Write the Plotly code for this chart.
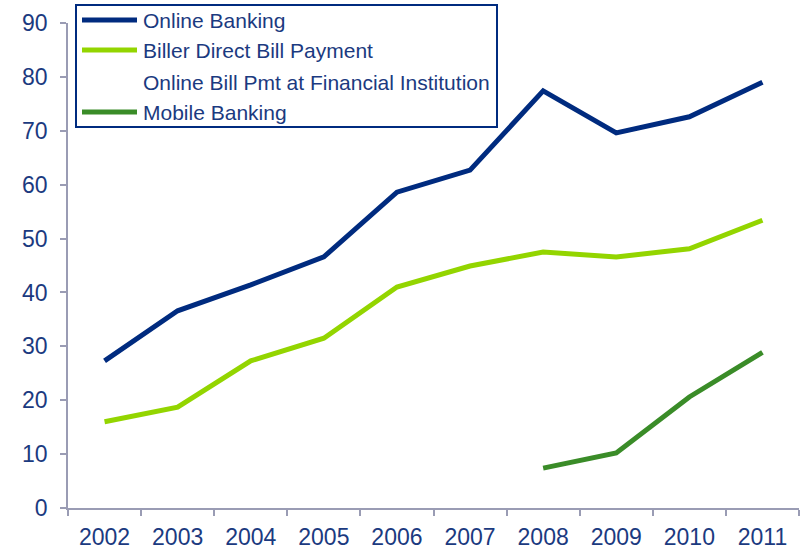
import plotly.graph_objects as go

years = ["2002", "2003", "2004", "2005", "2006", "2007", "2008", "2009", "2010", "2011"]

online_banking = [27.3, 36.6, 41.4, 46.6, 58.6, 62.7, 77.4, 69.6, 72.6, 79.0]
biller_direct = [16.0, 18.7, 27.3, 31.5, 41.0, 44.9, 47.5, 46.6, 48.1, 53.4]
online_bill_fi = [None] * 10
mobile_banking = [None, None, None, None, None, None, 7.4, 10.2, 20.6, 28.9]

y_ticks = [0, 10, 20, 30, 40, 50, 60, 70, 80, 90]

NAVY = "#002b7f"
TEXT = "#1b3a80"
AXIS = "#9a9cb4"
FONT = "Liberation Sans, Arial, sans-serif"

W, H = 803, 550
ML, MR, MT, MB = 68, 4, 23, 42
PW, PH = W - ML - MR, H - MT - MB


def px(x):
    return (x - ML) / PW


def py(y):
    return (H - MB - y) / PH


series = [
    ("Online Banking", online_banking, NAVY),
    ("Biller Direct Bill Payment", biller_direct, "#93d500"),
    ("Online Bill Pmt at Financial Institution", online_bill_fi, "#ffffff"),
    ("Mobile Banking", mobile_banking, "#3a8c28"),
]

fig = go.Figure()
for name, vals, color in series:
    fig.add_trace(go.Scatter(
        x=years, y=vals, name=name, mode="lines",
        line=dict(color=color, width=5), connectgaps=False,
        showlegend=False,
    ))

# Framed legend in the upper-left corner
shapes = [dict(
    type="rect", xref="paper", yref="paper",
    x0=px(76), x1=px(497), y0=py(127), y1=py(5),
    line=dict(color=NAVY, width=2), fillcolor="white", layer="above",
)]
annotations = []
row_y = [20, 50, 82, 112]
for (name, _, color), ry in zip(series, row_y):
    shapes.append(dict(
        type="line", xref="paper", yref="paper",
        x0=px(82), x1=px(137), y0=py(ry), y1=py(ry),
        line=dict(color=color, width=5), layer="above",
    ))
    annotations.append(dict(
        xref="paper", yref="paper", x=px(141), y=py(ry),
        xanchor="left", yanchor="middle", showarrow=False,
        text=name, font=dict(family=FONT, size=21, color=TEXT),
    ))

fig.update_layout(
    width=W, height=H,
    margin=dict(l=ML, r=MR, t=MT, b=MB),
    paper_bgcolor="white", plot_bgcolor="white",
    font=dict(family=FONT, size=23, color=TEXT),
    showlegend=False,
    shapes=shapes,
    annotations=annotations,
    xaxis=dict(
        type="category", range=[-0.5, 9.5], showgrid=False, zeroline=False,
        showline=True, linecolor=AXIS, linewidth=1.5, automargin=False,
        ticks="outside", tickson="boundaries", ticklen=6, tickcolor=AXIS, tickwidth=1.5,
        tickfont=dict(size=23, color=TEXT), ticklabelstandoff=8,
    ),
    yaxis=dict(
        range=[0, 90], tickvals=y_ticks, showgrid=False, zeroline=False,
        showline=True, linecolor=AXIS, linewidth=1.5, automargin=False,
        ticks="outside", ticklen=6, tickcolor=AXIS, tickwidth=1.5,
        tickfont=dict(size=23, color=TEXT), ticklabelstandoff=8,
    ),
)

fig.write_html("out.html")
